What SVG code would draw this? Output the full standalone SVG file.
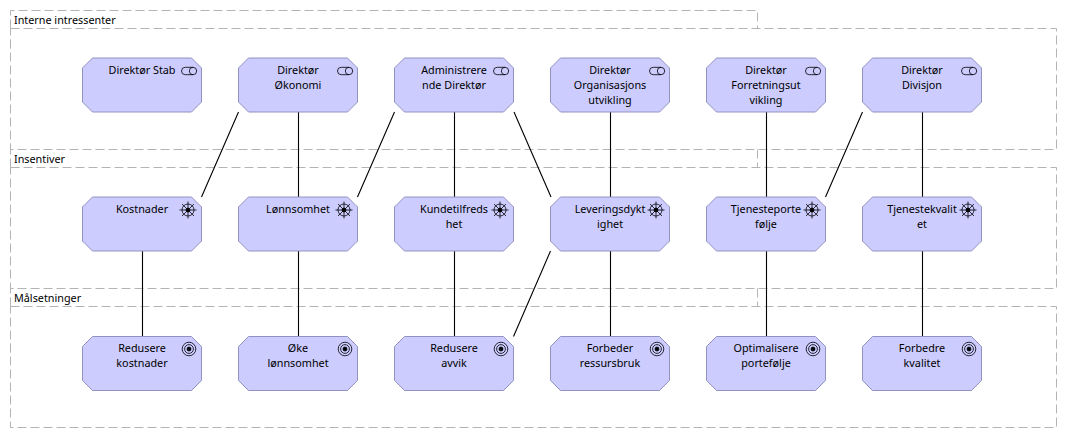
<svg xmlns="http://www.w3.org/2000/svg" xmlns:xlink="http://www.w3.org/1999/xlink" width="1067" height="438" viewBox="0 0 1067 438">
<style>
.grp{fill:none;stroke:#b4b4b4;stroke-width:1;stroke-dasharray:9 4}
.n{fill:#ccccff;stroke:#9292c0;stroke-width:1}
.c{stroke:#000;stroke-width:1.1;fill:none}
.i{fill:none;stroke:#000;stroke-width:.8}
text{font-family:"Noto Sans","Liberation Sans",sans-serif;font-size:10.8px;fill:#000}
.m{text-anchor:middle}
</style>
<defs>
<polygon id="box" class="n" points="10,0 109,0 119,10 119,44 109,54 10,54 0,44 0,10"/>
<g id="role" class="i"><path d="M193 67.300H185.200a3.700 3.700 0 0 0 0 7.400H193"/><circle cx="193" cy="71" r="3.700"/></g>
<g id="driver" class="i"><circle cx="188" cy="210" r="6"/><circle cx="188" cy="210" r="2" fill="#000"/><path d="M188 201.500v17M179.500 210h17M182 204l12 12M194 204l-12 12"/></g>
<g id="goal" class="i"><circle cx="189" cy="349" r="6.800"/><circle cx="189" cy="349" r="4.400"/><circle cx="189" cy="349" r="2" fill="#000"/></g>
</defs>
<g id="groups">
<g id="g-interne"><path class="grp" d="M10.500 28.500V10.500H757.500V28.500"/><rect class="grp" x="10.500" y="28.500" width="1046" height="121"/><text x="14" y="24">Interne intressenter</text></g>
<g id="g-insentiver"><path class="grp" d="M10.500 167.500V149.500M757.500 149.500V167.500"/><rect class="grp" x="10.500" y="167.500" width="1046" height="121"/><text x="14" y="163">Insentiver</text></g>
<g id="g-malsetninger"><path class="grp" d="M10.500 306.500V288.500M757.500 288.500V306.500"/><rect class="grp" x="10.500" y="306.500" width="1046" height="121"/><text x="14" y="302">Målsetninger</text></g>
</g>
<g id="connectors">
<path class="c" d="M238.500 112L201.500 197M298.500 112V197M394.500 112L357.500 197M454.500 112V197M514 112L551 197M610.500 112V197M766.500 112V197M862.500 112L825.500 197M922.500 112V197"/>
<path class="c" d="M142.500 251V336.500M298.500 251V336.500M454.500 251V336.500M550.500 251L513.500 336.500M610.500 251V336.500M766.500 251V336.500M922.500 251V336.500"/>
</g>
<g id="n1"><use href="#box" x="82.500" y="58"/><use href="#role"/><text class="m" x="142" y="74">Direktør Stab</text></g>
<g id="n2"><use href="#box" x="238.500" y="58"/><use href="#role" x="156"/><text class="m" x="298" y="74">Direktør</text><text class="m" x="298" y="89">Økonomi</text></g>
<g id="n3"><use href="#box" x="394.500" y="58"/><use href="#role" x="312"/><text class="m" x="454" y="74">Administrere</text><text class="m" x="454" y="89">nde Direktør</text></g>
<g id="n4"><use href="#box" x="550.500" y="58"/><use href="#role" x="468"/><text class="m" x="610" y="74">Direktør</text><text class="m" x="610" y="89">Organisasjons</text><text class="m" x="610" y="104">utvikling</text></g>
<g id="n5"><use href="#box" x="706.500" y="58"/><use href="#role" x="624"/><text class="m" x="766" y="74">Direktør</text><text class="m" x="766" y="89">Forretningsut</text><text class="m" x="766" y="104">vikling</text></g>
<g id="n6"><use href="#box" x="862.500" y="58"/><use href="#role" x="780"/><text class="m" x="922" y="74">Direktør</text><text class="m" x="922" y="89">Divisjon</text></g>
<g id="n7"><use href="#box" x="82.500" y="197"/><use href="#driver"/><text class="m" x="142" y="213">Kostnader</text></g>
<g id="n8"><use href="#box" x="238.500" y="197"/><use href="#driver" x="156"/><text class="m" x="298" y="213">Lønnsomhet</text></g>
<g id="n9"><use href="#box" x="394.500" y="197"/><use href="#driver" x="312"/><text class="m" x="454" y="213">Kundetilfreds</text><text class="m" x="454" y="228">het</text></g>
<g id="n10"><use href="#box" x="550.500" y="197"/><use href="#driver" x="468"/><text class="m" x="610" y="213">Leveringsdykt</text><text class="m" x="610" y="228">ighet</text></g>
<g id="n11"><use href="#box" x="706.500" y="197"/><use href="#driver" x="624"/><text class="m" x="766" y="213">Tjenesteporte</text><text class="m" x="766" y="228">følje</text></g>
<g id="n12"><use href="#box" x="862.500" y="197"/><use href="#driver" x="780"/><text class="m" x="922" y="213">Tjenestekvalit</text><text class="m" x="922" y="228">et</text></g>
<g id="n13"><use href="#box" x="82.500" y="336.500"/><use href="#goal"/><text class="m" x="142" y="352">Redusere</text><text class="m" x="142" y="367">kostnader</text></g>
<g id="n14"><use href="#box" x="238.500" y="336.500"/><use href="#goal" x="156"/><text class="m" x="298" y="352">Øke</text><text class="m" x="298" y="367">lønnsomhet</text></g>
<g id="n15"><use href="#box" x="394.500" y="336.500"/><use href="#goal" x="312"/><text class="m" x="454" y="352">Redusere</text><text class="m" x="454" y="367">avvik</text></g>
<g id="n16"><use href="#box" x="550.500" y="336.500"/><use href="#goal" x="468"/><text class="m" x="610" y="352">Forbeder</text><text class="m" x="610" y="367">ressursbruk</text></g>
<g id="n17"><use href="#box" x="706.500" y="336.500"/><use href="#goal" x="624"/><text class="m" x="766" y="352">Optimalisere</text><text class="m" x="766" y="367">portefølje</text></g>
<g id="n18"><use href="#box" x="862.500" y="336.500"/><use href="#goal" x="780"/><text class="m" x="922" y="352">Forbedre</text><text class="m" x="922" y="367">kvalitet</text></g>
</svg>
